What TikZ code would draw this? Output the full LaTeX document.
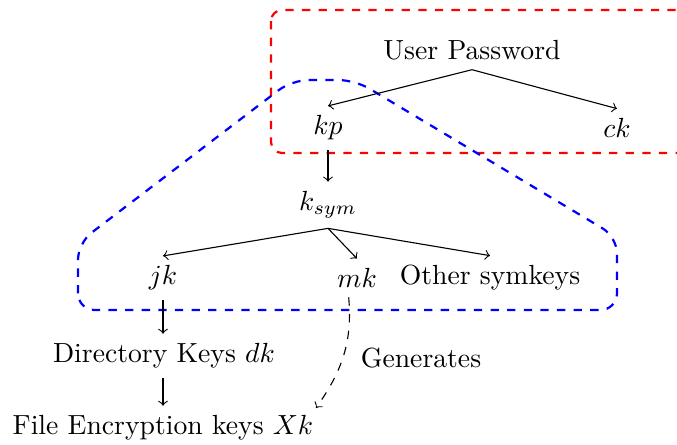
\documentclass[tikz,border=0pt]{standalone}
\begin{document}
\begin{tikzpicture}[x=0.3612pt,y=-0.3612pt,
  redbox/.style={draw=red,dashed,thick,rounded corners=4pt},
  bluebox/.style={draw=blue,dashed,thick,rounded corners=6pt},
  arr/.style={->},
  genarr/.style={->,dashed}]
\useasboundingbox (0,0) rectangle (677,444);
\begin{scope}
\clip (0,0) rectangle (677,444);
\draw[redbox] (271,10) rectangle (800,153);
\end{scope}
\draw[bluebox] (78,310) -- (78,243) -- (292,80) -- (355,80) -- (617,237) -- (617,310) -- cycle;
\node (up) at (472,50) {User Password};
\node (kp) at (328,128) {$kp$};
\node (ck) at (617,128) {$ck$};
\node (ks) at (328,205) {$k_{sym}$};
\node (jk) at (163,278) {$jk$};
\node (mk) at (357,278) {$mk$};
\node (os) at (490,278) {Other symkeys};
\node (dk) at (164,356) {Directory Keys $dk$};
\node (xk) at (163,428) {File Encryption keys $Xk$};
\coordinate (g) at (316,408);
\node[anchor=west] (gen) at (351,358) {Generates};
\draw[arr] (up.south) -- (kp.north);
\draw[arr] (up.south) -- (ck.north);
\draw[arr] (kp.south) -- (ks.north);
\draw[arr] (ks.south) -- (jk.north);
\draw[arr] (ks.south) -- (mk.north);
\draw[arr] (ks.south) -- (os.north);
\draw[arr] (jk.south) -- (jk.south |- dk.north);
\draw[arr] (dk.south -| jk.south) -- (jk.south |- xk.north);
\draw[genarr] ([xshift=-3]mk.south) to[out=-85,in=55] (g);
\end{tikzpicture}
\end{document}
